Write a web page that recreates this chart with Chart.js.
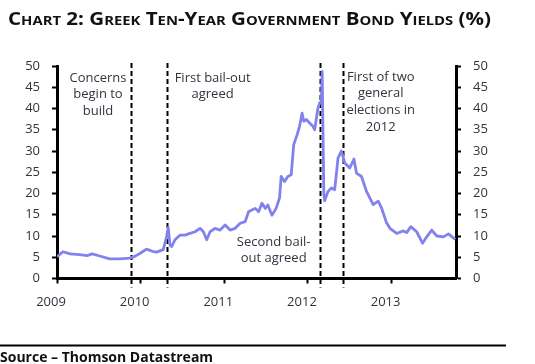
<!DOCTYPE html>
<html>
<head>
<meta charset="utf-8">
<script src="https://cdn.jsdelivr.net/npm/chart.js@4.4.0/dist/chart.umd.min.js"></script>
<style>
  html, body { margin: 0; padding: 0; background: #fff; }
  canvas { display: block; }
</style>
</head>
<body>
<canvas id="yields" width="535" height="364"></canvas>
<script>
// Greek 10y yields (decimal years / %)
const dates = [
  2009.00, 2009.04, 2009.07, 2009.16, 2009.27, 2009.36, 2009.42, 2009.51, 2009.63, 2009.75,
  2009.87, 2009.93, 2010.00, 2010.07, 2010.14, 2010.19, 2010.27, 2010.31, 2010.33, 2010.35,
  2010.37, 2010.41, 2010.47, 2010.53, 2010.59, 2010.65, 2010.71, 2010.75, 2010.79, 2010.83,
  2010.89, 2010.95, 2011.01, 2011.07, 2011.13, 2011.19, 2011.25, 2011.29, 2011.33, 2011.37,
  2011.41, 2011.45, 2011.49, 2011.52, 2011.57, 2011.62, 2011.66, 2011.68, 2011.72, 2011.76,
  2011.80, 2011.83, 2011.87, 2011.90, 2011.93, 2011.95, 2011.98, 2012.02, 2012.06, 2012.08,
  2012.12, 2012.14, 2012.16, 2012.17, 2012.19, 2012.20, 2012.24, 2012.28, 2012.32, 2012.36,
  2012.40, 2012.44, 2012.50, 2012.55, 2012.58, 2012.64, 2012.70, 2012.78, 2012.84, 2012.88,
  2012.94, 2012.98, 2013.06, 2013.14, 2013.18, 2013.23, 2013.30, 2013.37, 2013.42, 2013.48,
  2013.54, 2013.62, 2013.68, 2013.76
];
const yields = [
  5.1, 5.8, 6.3, 5.8, 5.6, 5.4, 5.8, 5.3, 4.6, 4.6,
  4.8, 5.2, 6.0, 6.9, 6.4, 6.2, 6.8, 9.8, 12.0, 7.9,
  7.5, 9.1, 10.2, 10.2, 10.6, 11.0, 11.8, 11.0, 9.1, 11.0,
  11.8, 11.4, 12.6, 11.4, 11.8, 13.0, 13.4, 15.7, 16.1, 16.5,
  15.7, 17.7, 16.5, 17.3, 14.9, 16.5, 18.9, 24.0, 22.8, 24.0,
  24.4, 31.5, 33.8, 35.8, 38.9, 37.0, 37.4, 36.6, 35.8, 35.0,
  40.1, 41.3, 41.6, 48.7, 19.8, 18.3, 20.5, 21.3, 20.9, 28.4,
  30.0, 27.2, 26.0, 28.1, 24.8, 24.0, 20.5, 17.4, 18.2, 16.6,
  13.1, 11.8, 10.6, 11.2, 10.8, 12.2, 11.0, 8.3, 9.8, 11.4,
  10.0, 9.8, 10.5, 9.2
];
const yearTicks = [2009, 2010, 2011, 2012, 2013];

// events marked with dashed lines, and their notes
const eventDates = [2009.89, 2010.32, 2012.14, 2012.42];
const eventNotes = [
  ['Concerns', 'begin to', 'build'],
  ['First bail-out', 'agreed'],
  ['Second bail-', 'out agreed'],
  ['First of two', 'general', 'elections in', '2012']
];
// where each note sits: centre (year), first line (% level)
const noteAnchors = [[2009.49, 47.2], [2010.86, 47.2], [2011.59, 8.6], [2012.87, 47.4]];

const titleText = 'Chart 2: Greek Ten-Year Government Bond Yields (%)';
const sourceText = 'Source \u2013 Thomson Datastream';

const FONT = '"Open Sans", "DejaVu Sans", sans-serif';
const INK = '#333340';

const points = dates.map((d, i) => ({ x: d, y: yields[i] }));

const decorations = {
  id: 'decorations',
  beforeDatasetsDraw(chart) {
    const ctx = chart.ctx, xs = chart.scales.x, a = chart.chartArea;
    ctx.save();
    ctx.strokeStyle = '#000';
    ctx.lineWidth = 2;
    ctx.setLineDash([5, 3]);
    eventDates.forEach(d => {
      const px = Math.round(xs.getPixelForValue(d)) + 0.5;
      ctx.beginPath();
      ctx.moveTo(px, a.top - 3);
      ctx.lineTo(px, a.bottom + 9);
      ctx.stroke();
    });
    ctx.restore();
  },
  afterDraw(chart) {
    const ctx = chart.ctx, xs = chart.scales.x, ys = chart.scales.y;
    ctx.save();
    // notes
    ctx.fillStyle = INK;
    ctx.font = '13px ' + FONT;
    ctx.textAlign = 'center';
    ctx.textBaseline = 'middle';
    eventNotes.forEach((lines, i) => {
      const cx = xs.getPixelForValue(noteAnchors[i][0]);
      const cy = ys.getPixelForValue(noteAnchors[i][1]);
      lines.forEach((t, j) => ctx.fillText(t, cx, cy + j * 16.7));
    });

    // title in small caps, stretched to the width in the original
    ctx.fillStyle = '#111';
    ctx.font = 'small-caps bold 18px ' + FONT;
    if ('fontVariantCaps' in ctx) ctx.fontVariantCaps = 'small-caps';
    ctx.textAlign = 'left';
    ctx.textBaseline = 'alphabetic';
    const w = ctx.measureText(titleText).width;
    ctx.save();
    ctx.translate(8, 25);
    ctx.scale(483 / w, 1);
    ctx.fillText(titleText, 0, 0);
    ctx.restore();
    if ('fontVariantCaps' in ctx) ctx.fontVariantCaps = 'normal';

    // source rule and text
    ctx.fillStyle = '#000';
    ctx.fillRect(0, 344.5, 506, 2);
    ctx.fillStyle = '#111';
    ctx.font = 'bold 14px ' + FONT;
    ctx.fillText(sourceText, 0, 362);
    ctx.restore();
  }
};

const yAxis = (side, width) => ({
  type: 'linear',
  position: side,
  min: 0,
  max: 50,
  ticks: {
    stepSize: 5,
    color: INK,
    font: { family: FONT, size: 13 },
    padding: 12
  },
  grid: { drawOnChartArea: false, drawTicks: true, tickLength: 5, tickWidth: 2, tickColor: '#000' },
  border: { display: true, color: '#000', width: 3 },
  afterFit(s) { s.width = width; }
});

new Chart(document.getElementById('yields'), {
  type: 'line',
  data: {
    datasets: [{
      data: points,
      borderColor: '#8282ef',
      borderWidth: 2.8,
      borderJoinStyle: 'round',
      pointRadius: 0,
      tension: 0
    }]
  },
  options: {
    responsive: false,
    animation: false,
    layout: { padding: { left: 0, right: 0, top: 66, bottom: 50 } },
    plugins: { legend: { display: false }, tooltip: { enabled: false } },
    scales: {
      x: {
        type: 'linear',
        min: 2009,
        max: 2013.77,
        ticks: {
          stepSize: 1,
          color: INK,
          font: { family: FONT, size: 13 },
          padding: 11,
          labelOffset: -6,
          maxRotation: 0,
          callback: v => String(v)
        },
        afterBuildTicks(s) { s.ticks = yearTicks.map(v => ({ value: v })); },
        grid: { drawOnChartArea: false, drawTicks: true, tickLength: 5, tickWidth: 2, tickColor: '#000' },
        border: { display: true, color: '#000', width: 3 },
        afterFit(s) { s.height = 35.5; }
      },
      y: yAxis('left', 57),
      y2: yAxis('right', 79)
    }
  },
  plugins: [decorations]
});
</script>
</body>
</html>
